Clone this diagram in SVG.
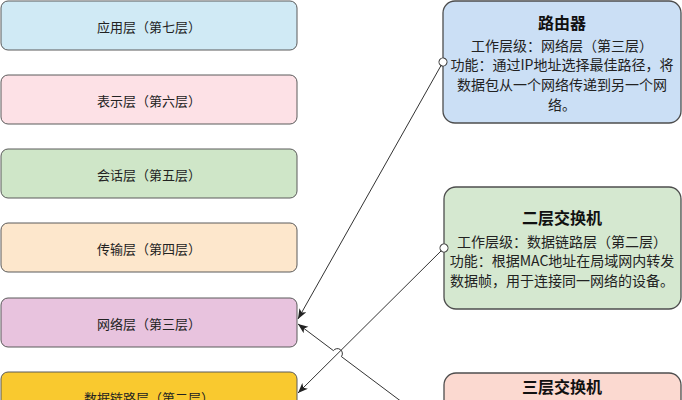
<svg xmlns="http://www.w3.org/2000/svg" width="682" height="400" viewBox="0 0 682 400">
<style>
.layer{stroke:#5a5a5a;stroke-width:1}
.dev{stroke:#4d4d4d;stroke-width:1.3}
.lt{font-family:"Noto Sans CJK SC","Liberation Sans",sans-serif;font-size:13px;fill:#222;text-anchor:middle;dominant-baseline:central}
.tt{font-family:"Noto Sans CJK SC","Liberation Sans",sans-serif;font-size:16px;font-weight:bold;fill:#111;text-anchor:middle;dominant-baseline:central}
.bt{font-family:"Noto Sans CJK SC","Liberation Sans",sans-serif;font-size:14px;fill:#222;text-anchor:middle;dominant-baseline:central}
.conn{fill:none;stroke:#333;stroke-width:1}
</style>
<defs>
<marker id="arr" markerUnits="userSpaceOnUse" markerWidth="11" markerHeight="9" refX="10" refY="4" orient="auto">
<path d="M0,0 L10,4 L0,8 L2.5,4 z" fill="#222"/>
</marker>
<marker id="oval" markerUnits="userSpaceOnUse" markerWidth="10" markerHeight="10" refX="5" refY="5" orient="auto">
<circle cx="5" cy="5" r="4" fill="#fff" stroke="#333" stroke-width="1"/>
</marker>
</defs>
<rect width="682" height="400" fill="#fff"/>
<g id="app-layer"><rect class="layer" x="1" y="1" width="296" height="49" rx="7" fill="#d0eaf5"/><text class="lt" x="149" y="26">应用层（第七层）</text></g>
<g id="presentation-layer"><rect class="layer" x="1" y="75" width="296" height="49" rx="7" fill="#fde1e6"/><text class="lt" x="149" y="100">表示层（第六层）</text></g>
<g id="session-layer"><rect class="layer" x="1" y="149" width="296" height="49" rx="7" fill="#cfe6c8"/><text class="lt" x="149" y="174">会话层（第五层）</text></g>
<g id="transport-layer"><rect class="layer" x="1" y="223" width="296" height="49" rx="7" fill="#fde7cc"/><text class="lt" x="149" y="248">传输层（第四层）</text></g>
<g id="network-layer"><rect class="layer" x="1" y="298" width="296" height="49" rx="7" fill="#e8c3de"/><text class="lt" x="149" y="323">网络层（第三层）</text></g>
<g id="datalink-layer"><rect class="layer" x="1" y="372" width="296" height="49" rx="7" fill="#f9c92f"/><text class="lt" x="149" y="397">数据链路层（第二层）</text></g>
<g id="router"><rect class="dev" x="443" y="1" width="238" height="122" rx="12" fill="#cbdff5"/>
<text class="tt" x="562" y="22">路由器</text>
<text class="bt" x="562" y="45">工作层级：网络层（第三层）</text>
<text class="bt" x="562" y="64">功能：通过IP地址选择最佳路径，将</text>
<text class="bt" x="562" y="84">数据包从一个网络传递到另一个网</text>
<text class="bt" x="562" y="104">络。</text></g>
<g id="l2-switch"><rect class="dev" x="444" y="187" width="237" height="122" rx="12" fill="#d5e8d0"/>
<text class="tt" x="562" y="217">二层交换机</text>
<text class="bt" x="562" y="241">工作层级：数据链路层（第二层）</text>
<text class="bt" x="562" y="260">功能：根据MAC地址在局域网内转发</text>
<text class="bt" x="562" y="280">数据帧，用于连接同一网络的设备。</text></g>
<g id="l3-switch"><rect class="dev" x="444" y="373" width="237" height="100" rx="12" fill="#fbd9d0"/>
<text class="tt" x="562" y="386">三层交换机</text></g>
<g id="connectors">
<path class="conn" d="M443,62 L298,319" marker-start="url(#oval)" marker-end="url(#arr)"/>
<path class="conn" d="M444,248 L298,393" marker-start="url(#oval)" marker-end="url(#arr)"/>
<path class="conn" d="M444,433.5 L341.4,356.6 A5,5 0 0 0 333.4,350.6 L298,324" marker-end="url(#arr)"/>
</g>
</svg>
